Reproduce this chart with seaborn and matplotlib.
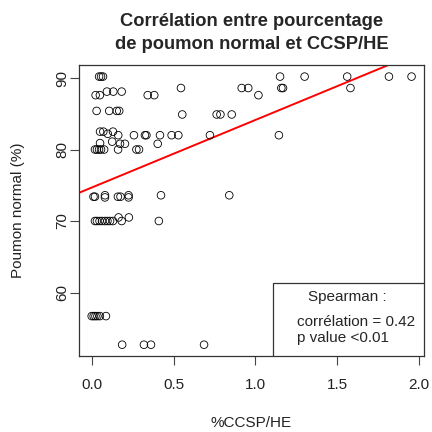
import numpy as np
import pandas as pd
import matplotlib
matplotlib.use("Agg")
import matplotlib.pyplot as plt
import seaborn as sns

# %CCSP/HE and matching percentage of normal lung, one value per sample
ccsp_he = [
    0.045, 0.057, 0.069, 1.15, 1.30, 1.56, 1.815, 1.953,
    0.545, 1.158, 1.168, 1.58, 0.916, 0.956,
    0.093, 0.132, 0.183,
    0.024, 0.05, 0.342, 0.382, 1.018,
    0.03, 0.107, 0.153, 0.168,
    0.553, 0.763, 0.786, 0.855,
    0.051, 0.071, 0.13,
    0.098,
    0.162, 0.258, 0.325, 0.334, 0.417, 0.488, 0.529, 0.722, 1.143,
    0.051,
    0.125,
    0.173, 0.203, 0.403,
    0.02, 0.032, 0.045, 0.057, 0.076, 0.161, 0.273, 0.289,
    0.011, 0.02, 0.16, 0.176,
    0.081, 0.225, 0.423, 0.84,
    0.081, 0.225,
    0.164, 0.227,
    0.02, 0.032, 0.048, 0.063, 0.081, 0.096, 0.112, 0.13, 0.183, 0.41,
    0.0, 0.012, 0.023, 0.035, 0.05, 0.087,
    0.186, 0.319, 0.362, 0.686,
]
poumon_normal = [
    90.2, 90.2, 90.2, 90.2, 90.2, 90.2, 90.2, 90.2,
    88.6, 88.6, 88.6, 88.6, 88.6, 88.6,
    88.1, 88.1, 88.1,
    87.6, 87.6, 87.6, 87.6, 87.6,
    85.4, 85.4, 85.4, 85.4,
    84.9, 84.9, 84.9, 84.9,
    82.5, 82.5, 82.5,
    82.2,
    82.0, 82.0, 82.0, 82.0, 82.0, 82.0, 82.0, 82.0, 82.0,
    80.9,
    81.1,
    80.8, 80.8, 80.8,
    80.0, 80.0, 80.0, 80.0, 80.0, 80.0, 80.0, 80.0,
    73.4, 73.4, 73.4, 73.4,
    73.6, 73.6, 73.6, 73.6,
    73.3, 73.3,
    70.5, 70.5,
    70.0, 70.0, 70.0, 70.0, 70.0, 70.0, 70.0, 70.0, 70.0, 70.0,
    56.7, 56.7, 56.7, 56.7, 56.7, 56.7,
    52.7, 52.7, 52.7, 52.7,
]

x_ticks = [0.0, 0.5, 1.0, 1.5, 2.0]
x_tick_labels = ["0.0", "0.5", "1.0", "1.5", "2.0"]
y_ticks = [60, 70, 80, 90]
y_tick_labels = ["60", "70", "80", "90"]

title_lines = ["Corrélation entre pourcentage", "de poumon normal et CCSP/HE"]
legend_title = "Spearman :"
legend_lines = ["corrélation = 0.42", "p value <0.01"]

df = pd.DataFrame({"ccsp": ccsp_he, "normal": poumon_normal})

sns.set_style("ticks")
plt.rcParams["font.family"] = ["Liberation Sans", "DejaVu Sans"]

fig = plt.figure(figsize=(4.32, 4.32), dpi=100)
ax = fig.add_axes([79 / 432, 1 - 356 / 432, 345 / 432, 291 / 432])

sns.scatterplot(data=df, x="ccsp", y="normal", ax=ax, marker="o",
                facecolor="none", edgecolor="black", linewidth=0.6, s=30,
                zorder=3)

# least-squares line across the full plotting region
slope, intercept = np.polyfit(df["ccsp"], df["normal"], 1)
ax.axline((0, intercept), slope=slope, color="#ff0000", lw=1.4, zorder=2)

ax.set_xlim(-0.0775, 2.029)
ax.set_ylim(51.12, 91.82)
ax.set_xticks(x_ticks)
ax.set_xticklabels(x_tick_labels, fontsize=11, color="#222222")
ax.set_yticks(y_ticks)
ax.set_yticklabels(y_tick_labels, fontsize=11, color="#222222",
                   rotation=90, va="center")
ax.tick_params(axis="both", length=6.5, width=0.8, color="#444444")
ax.tick_params(axis="x", pad=9.5)
ax.tick_params(axis="y", pad=0.5)
for sp in ax.spines.values():
    sp.set_visible(True)
    sp.set_color("#333333")
    sp.set_linewidth(0.9)

ax.set_xlabel("%CCSP/HE", fontsize=11, color="#222222", labelpad=17)
ax.set_ylabel("Poumon normal (%)", fontsize=11, color="#222222", labelpad=22)

cx = (79 + 424) / 2 / 432
fig.text(cx, 1 - 26 / 432, title_lines[0], ha="center", va="baseline",
         fontsize=13.2, fontweight="bold")
fig.text(cx, 1 - 49 / 432, title_lines[1], ha="center", va="baseline",
         fontsize=13.2, fontweight="bold")

# legend box in the lower right corner
bx0 = (272.5 - 79) / 345
by1 = (356 - 283) / 291
ax.add_patch(plt.Rectangle((bx0, 0), 1 - bx0, by1, transform=ax.transAxes,
                           facecolor="white", edgecolor="#333333",
                           linewidth=0.9, zorder=4))
ax.text((347 - 79) / 345, (356 - 297) / 291, legend_title,
        transform=ax.transAxes, ha="center", va="center", fontsize=11,
        zorder=5)
ax.text((297 - 79) / 345, (356 - 321.5) / 291, legend_lines[0],
        transform=ax.transAxes, ha="left", va="center", fontsize=11, zorder=5)
ax.text((297 - 79) / 345, (356 - 338) / 291, legend_lines[1],
        transform=ax.transAxes, ha="left", va="center", fontsize=11, zorder=5)

fig.savefig("out.png", dpi=100, facecolor="white")
